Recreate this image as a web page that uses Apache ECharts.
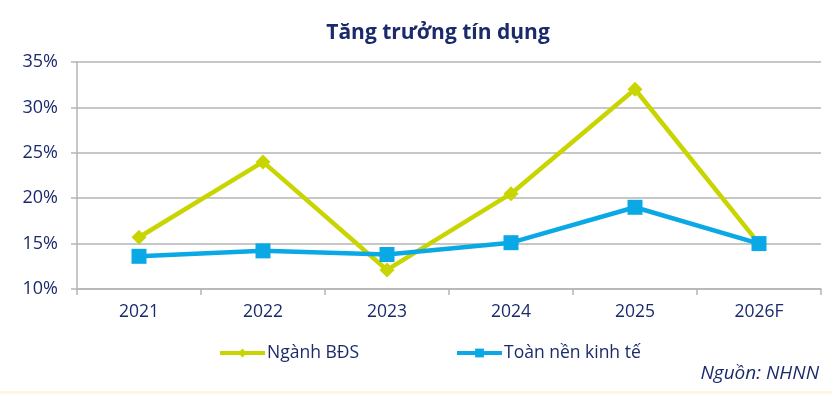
<!DOCTYPE html>
<html><head><meta charset="utf-8">
<script src="https://cdn.jsdelivr.net/npm/echarts@6/dist/echarts.min.js"></script>
<style>html,body{margin:0;padding:0;background:#fff}#c{width:832px;height:394px}</style>
</head><body><div id="c"></div>
<script>
const categories = ['2021','2022','2023','2024','2025','2026F'];
const bdsValues = [15.7, 24.0, 12.1, 20.5, 32.0, 15.0];
const economyValues = [13.6, 14.2, 13.8, 15.1, 19.0, 15.0];
const seriesNames = ['Ngành BĐS', 'Toàn nền kinh tế'];
const titleText = 'Tăng trưởng tín dụng';
const sourceText = 'Nguồn: NHNN';

const navy = '#1b2a6b';
const font = 'Open Sans';
const chart = echarts.init(document.getElementById('c'));
chart.setOption({
  backgroundColor: '#fff',
  animation: false,
  title: { text: titleText, left: 433, textAlign: 'center', top: 18,
    textStyle: { color: navy, fontSize: 21, fontWeight: 'bold', fontFamily: font } },
  grid: { left: 77, right: 11, top: 62, bottom: 105 },
  legend: {
    left: 213, top: 339, itemWidth: 45, itemHeight: 11, itemGap: 96,
    textStyle: { color: navy, fontSize: 17.5, fontFamily: font, padding: [0,0,0,-3] },
    lineStyle: { width: 4 },
    data: seriesNames
  },
  xAxis: {
    type: 'category', data: categories, boundaryGap: true,
    axisLine: { lineStyle: { color: '#b5b5b5', width: 1.5 } },
    axisTick: { show: true, length: 6, lineStyle: { color: '#b5b5b5', width: 1.5 } },
    axisLabel: { color: navy, fontSize: 17.5, fontFamily: font, margin: 14 }
  },
  yAxis: {
    type: 'value', min: 10, max: 35, interval: 5,
    axisLine: { show: true, lineStyle: { color: '#b5b5b5', width: 1.5 } },
    axisTick: { show: true, length: 6, lineStyle: { color: '#b5b5b5', width: 1.5 } },
    splitLine: { lineStyle: { color: '#b5b5b5', width: 1.5 } },
    axisLabel: { color: navy, fontSize: 18, fontFamily: font, margin: 19, formatter: v => v + '%' }
  },
  series: [
    { name: seriesNames[0], type: 'line', data: bdsValues, symbol: 'diamond', symbolSize: 15,
      lineStyle: { color: '#c9d500', width: 4.5 }, itemStyle: { color: '#c9d500' }, z: 2 },
    { name: seriesNames[1], type: 'line', data: economyValues, symbol: 'rect', symbolSize: 15,
      lineStyle: { color: '#0aa9e6', width: 4.5 }, itemStyle: { color: '#0aa9e6' }, z: 3 }
  ],
  graphic: [
    { type: 'text', right: 13, top: 364, style: { text: sourceText, fill: navy,
      font: 'italic 19px "Open Sans"' } },
    { type: 'rect', left: 0, top: 391, shape: { width: 832, height: 3 }, style: { fill: '#fcf8e0' } }
  ]
});
</script></body></html>
